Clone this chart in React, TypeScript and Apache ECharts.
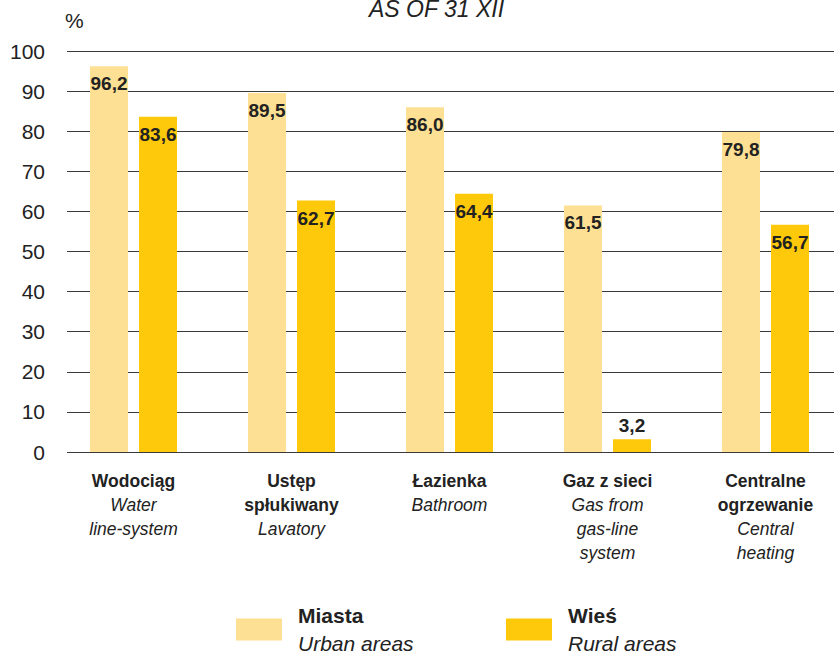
import React, { useEffect, useRef } from "react";
import * as echarts from "echarts";

const categoriesPl = ["Wodociąg", "Ustęp\nspłukiwany", "Łazienka", "Gaz z sieci", "Centralne\nogrzewanie"];
const categoriesEn = ["Water\nline-system", "Lavatory", "Bathroom", "Gas from\ngas-line\nsystem", "Central\nheating"];
const urbanValues = [96.2, 89.5, 86.0, 61.5, 79.8];
const ruralValues = [83.6, 62.7, 64.4, 3.2, 56.7];
const seriesNames = ["Miasta", "Wieś"];
const seriesNamesEn = ["Urban areas", "Rural areas"];
const yTicks = [0, 10, 20, 30, 40, 50, 60, 70, 80, 90, 100];
const titleText = "AS OF 31 XII";
const unitText = "%";

const SANS = "'Liberation Sans', Arial, sans-serif";
const URBAN = "#FDE093";
const RURAL = "#FFC90B";

const fmt = (v: number) => v.toFixed(1).replace(".", ",");

export default function App() {
  const ref = useRef<HTMLDivElement>(null);
  useEffect(() => {
    document.body.style.margin = "0";
    document.body.style.overflow = "hidden";
    if (!ref.current) return;
    const chart = echarts.init(ref.current, null, { renderer: "svg" });
    const labelBase = {
      show: true,
      position: "insideTop",
      distance: 8,
      fontFamily: SANS,
      fontWeight: "bold",
      fontSize: 19,
      color: "#222",
      formatter: (p: any) => fmt(p.value),
    };
    const mkData = (arr: number[]) =>
      arr.map((v) =>
        v < 10 ? { value: v, label: { position: "top", distance: 4 } } : { value: v }
      );
    const legendRich = {
      b: { fontFamily: SANS, fontWeight: "bold", fontSize: 21, lineHeight: 28, color: "#222", padding: [0, 0, 0, 11] },
      i: { fontFamily: SANS, fontStyle: "italic", fontSize: 21, lineHeight: 28, color: "#222", padding: [0, 0, 0, 11] },
    };
    const legendFormatter = (name: string) => {
      const idx = seriesNames.indexOf(name);
      return `{b|${name}}\n{i|${seriesNamesEn[idx]}}`;
    };
    chart.setOption({
      animation: false,
      title: {
        text: titleText,
        left: 369,
        top: -3,
        padding: 0,
        textStyle: { fontFamily: SANS, fontStyle: "italic", fontWeight: "normal", fontSize: 23, color: "#222" },
      },
      legend: [
        {
          data: [seriesNames[0]],
          left: 236,
          top: 605,
          padding: 0,
          icon: "rect",
          itemWidth: 46,
          itemHeight: 22,
          formatter: legendFormatter,
          textStyle: { rich: legendRich },
        },
        {
          data: [seriesNames[1]],
          left: 506,
          top: 605,
          padding: 0,
          icon: "rect",
          itemWidth: 46,
          itemHeight: 22,
          formatter: legendFormatter,
          textStyle: { rich: legendRich },
        },
      ],
      grid: [
        { left: 54.5, width: 790, top: 51, height: 401, containLabel: false },
        { left: 67, width: 767, top: 51, height: 401, containLabel: false },
      ],
      xAxis: [
        {
          type: "category",
          gridIndex: 0,
          data: categoriesPl,
          axisLine: { show: false },
          axisTick: { show: false },
          axisLabel: {
            margin: 17,
            interval: 0,
            formatter: (v: string) => {
              const idx = categoriesPl.indexOf(v);
              const bold = v.split("\n").map((s) => `{b|${s}}`);
              const it = categoriesEn[idx].split("\n").map((s) => `{i|${s}}`);
              return bold.concat(it).join("\n");
            },
            rich: {
              b: { fontFamily: SANS, fontWeight: "bold", fontSize: 17.5, lineHeight: 24, color: "#222" },
              i: { fontFamily: SANS, fontStyle: "italic", fontSize: 17.5, lineHeight: 24, color: "#222" },
            },
          },
        },
        { type: "value", gridIndex: 1, show: false, min: 0, max: 1 },
      ],
      yAxis: [
        { type: "value", gridIndex: 0, min: 0, max: 100, show: false },
        {
          type: "value",
          gridIndex: 1,
          min: yTicks[0],
          max: yTicks[yTicks.length - 1],
          interval: 10,
          name: unitText,
          nameLocation: "end",
          nameGap: 20,
          nameTextStyle: { fontFamily: SANS, fontSize: 21, color: "#222", align: "left", padding: [0, 0, 0, -2] },
          axisLine: { show: false },
          axisTick: { show: false },
          axisLabel: { fontFamily: SANS, fontSize: 21, color: "#222", margin: 22 },
          splitLine: { show: true, lineStyle: { color: "#3a3a3a", width: 1.2 } },
        },
      ],
      series: [
        {
          name: seriesNames[0],
          type: "bar",
          xAxisIndex: 0,
          yAxisIndex: 0,
          data: mkData(urbanValues),
          barWidth: 38,
          barGap: "29%",
          itemStyle: { color: URBAN },
          label: labelBase,
        },
        {
          name: seriesNames[1],
          type: "bar",
          xAxisIndex: 0,
          yAxisIndex: 0,
          data: mkData(ruralValues),
          barWidth: 38,
          barGap: "29%",
          itemStyle: { color: RURAL },
          label: labelBase,
        },
      ],
    });
    return () => chart.dispose();
  }, []);
  return <div ref={ref} style={{ width: 846, height: 664 }} />;
}
